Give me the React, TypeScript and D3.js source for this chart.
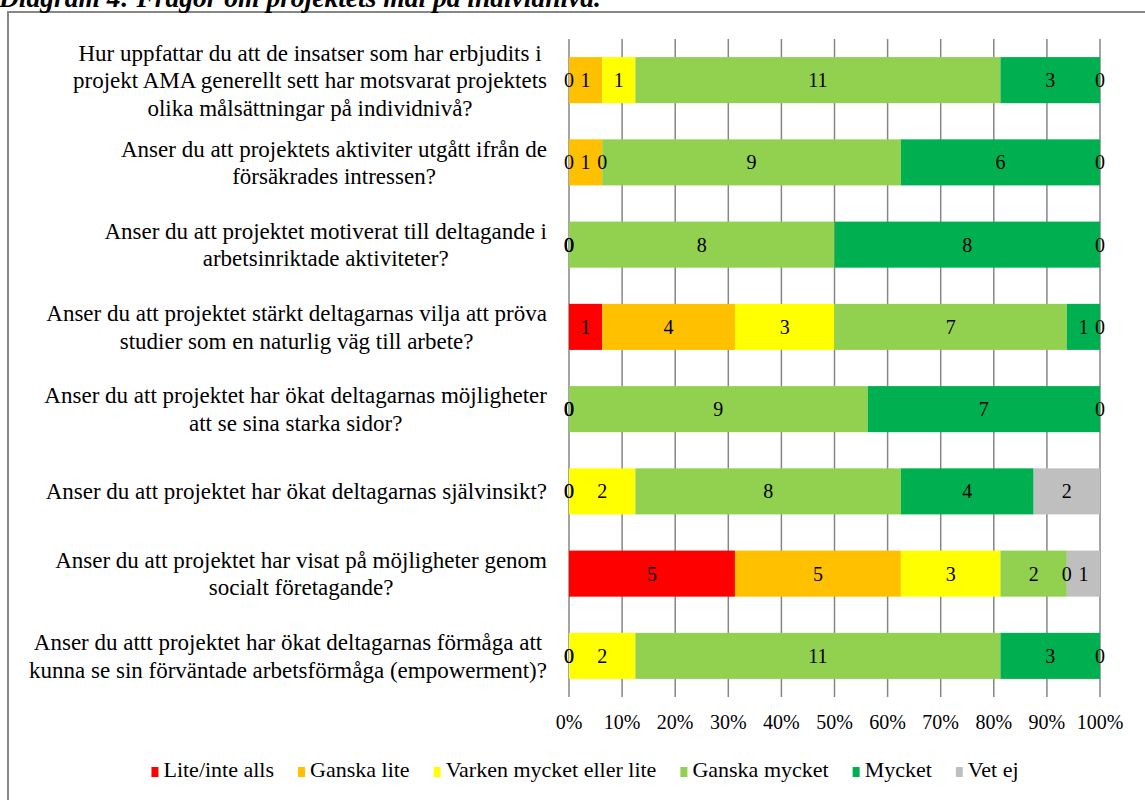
import React, { useEffect, useRef } from "react";
import * as d3 from "d3";

const categories: string[][] = [
  ["Hur uppfattar du att de insatser som har erbjudits i", "projekt AMA generellt sett har motsvarat projektets", "olika målsättningar på individnivå?"],
  ["Anser du att projektets aktiviter utgått ifrån de", "försäkrades intressen?"],
  ["Anser du att projektet motiverat till deltagande i", "arbetsinriktade aktiviteter?"],
  ["Anser du att projektet stärkt deltagarnas vilja att pröva", "studier som en naturlig väg till arbete?"],
  ["Anser du att projektet har ökat deltagarnas möjligheter", "att se sina starka sidor?"],
  ["Anser du att projektet har ökat deltagarnas självinsikt?"],
  ["Anser du att projektet har visat på möjligheter genom", "socialt företagande?"],
  ["Anser du attt projektet har ökat deltagarnas förmåga att", "kunna se sin förväntade arbetsförmåga (empowerment)?"],
];

const seriesNames = ["Lite/inte alls", "Ganska lite", "Varken mycket eller lite", "Ganska mycket", "Mycket", "Vet ej"];
const seriesColors = ["#FF0000", "#FFC000", "#FFFF00", "#92D050", "#00B050", "#BFBFBF"];

const liteInteAlls = [0, 0, 0, 1, 0, 0, 5, 0];
const ganskaLite = [1, 1, 0, 4, 0, 0, 5, 0];
const varken = [1, 0, 0, 3, 0, 2, 3, 2];
const ganskaMycket = [11, 9, 8, 7, 9, 8, 2, 11];
const mycket = [3, 6, 8, 1, 7, 4, 0, 3];
const vetEj = [0, 0, 0, 0, 0, 2, 1, 0];

const tickValues = [0, 0.1, 0.2, 0.3, 0.4, 0.5, 0.6, 0.7, 0.8, 0.9, 1];

const title = "Diagram 4: Frågor om projektets mål på individnivå.";

const FONT = "'Liberation Serif', Tinos, 'DejaVu Serif', serif";

export default function App() {
  const ref = useRef<SVGSVGElement>(null);

  useEffect(() => {
    const svg = d3.select(ref.current);
    svg.selectAll("*").remove();

    const x0 = 569, x1 = 1100, yTop = 39, yBot = 697;

    const seriesArrays = [liteInteAlls, ganskaLite, varken, ganskaMycket, mycket, vetEj];
    const rows = categories.map((_, i) => {
      const o: any = { i };
      seriesNames.forEach((n, s) => (o[n] = seriesArrays[s][i]));
      return o;
    });
    const stack = d3.stack<any>().keys(seriesNames).offset(d3.stackOffsetExpand);
    const stacked = stack(rows);

    const x = d3.scaleLinear().domain([0, 1]).range([x0, x1]);
    const y = d3.scaleBand<number>().domain(d3.range(categories.length)).range([yTop, yBot]).paddingInner(0.44).paddingOuter(0.22);

    // frame
    svg.append("rect").attr("x", 8).attr("y", 12).attr("width", 1150).attr("height", 800)
      .attr("fill", "none").attr("stroke", "#878787").attr("stroke-width", 2);

    // title
    svg.append("text").attr("x", -1).attr("y", 7)
      .attr("font-family", FONT).attr("font-size", 27.5).attr("font-weight", "bold").attr("font-style", "italic")
      .attr("fill", "#000").text(title);

    // gridlines
    svg.append("g").selectAll("line").data(tickValues).join("line")
      .attr("x1", (d) => x(d)).attr("x2", (d) => x(d))
      .attr("y1", yTop).attr("y2", yBot)
      .attr("stroke", "#868686").attr("stroke-width", 1.5);

    // bars
    const g = svg.append("g");
    stacked.forEach((layer, s) => {
      g.append("g").selectAll("rect").data(layer).join("rect")
        .attr("x", (d) => x(d[0]))
        .attr("width", (d) => Math.max(0, x(d[1]) - x(d[0])))
        .attr("y", (_d, i) => y(i)!)
        .attr("height", y.bandwidth())
        .attr("fill", seriesColors[s]);
    });

    // data labels
    stacked.forEach((layer, s) => {
      const key = seriesNames[s];
      g.append("g").selectAll("text").data(layer).join("text")
        .attr("x", (d) => x((d[0] + d[1]) / 2))
        .attr("y", (_d, i) => y(i)! + y.bandwidth() / 2)
        .attr("dy", "0.35em")
        .attr("text-anchor", "middle")
        .attr("font-family", FONT).attr("font-size", 20).attr("fill", "#000")
        .text((d: any) => String(d.data[key]));
    });

    // category labels
    const labelRight = 547;
    const lh = 27.5;
    categories.forEach((lines, i) => {
      const cy = y(i)! + y.bandwidth() / 2;
      const grp = svg.append("g");
      const texts = lines.map((ln, k) =>
        grp.append("text")
          .attr("y", cy + (k - (lines.length - 1) / 2) * lh)
          .attr("dy", "0.35em")
          .attr("text-anchor", "middle")
          .attr("font-family", FONT).attr("font-size", 23).attr("fill", "#000")
          .text(ln)
      );
      const widths = texts.map((t) => (t.node() as SVGTextElement).getComputedTextLength());
      const maxW = d3.max(widths) || 0;
      texts.forEach((t) => t.attr("x", labelRight - maxW / 2));
    });

    // x axis labels
    svg.append("g").selectAll("text").data(tickValues).join("text")
      .attr("x", (d) => x(d)).attr("y", 729)
      .attr("text-anchor", "middle")
      .attr("font-family", FONT).attr("font-size", 20).attr("fill", "#000")
      .text((d) => d3.format(".0%")(d));

    // legend
    const lg = svg.append("g");
    const items = seriesNames.map((n, s) => {
      const it = lg.append("g");
      it.append("rect").attr("x", 0).attr("y", 767).attr("width", 7).attr("height", 10).attr("fill", seriesColors[s]);
      const t = it.append("text").attr("x", 12).attr("y", 777)
        .attr("font-family", FONT).attr("font-size", 22).attr("fill", "#000").text(n);
      const w = (t.node() as SVGTextElement).getComputedTextLength();
      return { it, w: 12 + w };
    });
    const gap = 24;
    const total = d3.sum(items, (d) => d.w) + gap * (items.length - 1);
    let cx = 585 - total / 2;
    items.forEach((d) => {
      d.it.attr("transform", `translate(${cx},0)`);
      cx += d.w + gap;
    });
  }, []);

  return (
    <svg ref={ref} width={1145} height={800} style={{ position: "absolute", left: 0, top: 0, background: "#fff" }} />
  );
}
